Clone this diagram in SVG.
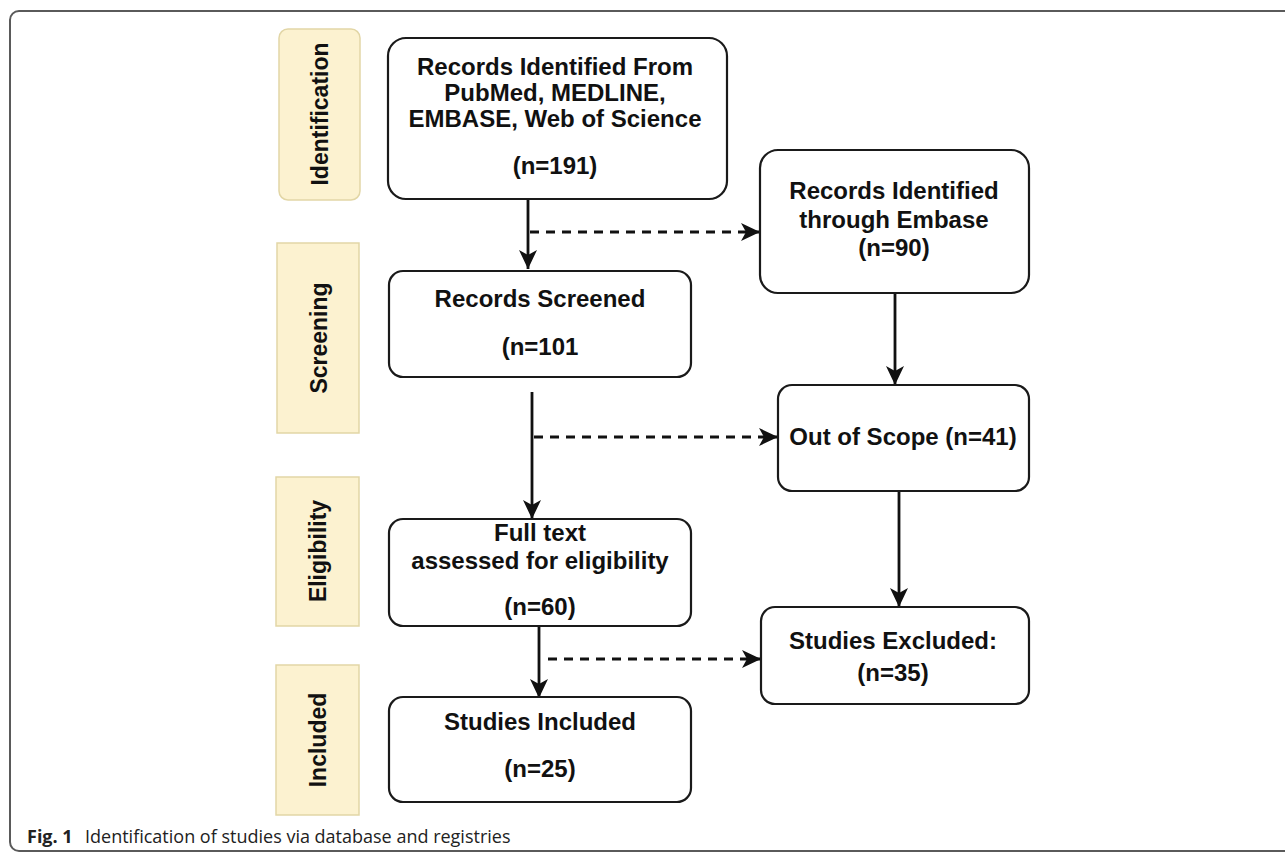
<svg xmlns="http://www.w3.org/2000/svg" width="1285" height="854" viewBox="0 0 1285 854">
<defs>
<style>
.frame{fill:#fff;stroke:#5a5a5a;stroke-width:2}
.phase{fill:#fcf2d0;stroke:#e2d6a6;stroke-width:1.5}
.box{fill:#fff;stroke:#1a1a1a;stroke-width:2.2}
.t{font-family:"Liberation Sans",Arial,sans-serif;font-weight:bold;font-size:24px;fill:#111;text-anchor:middle}
.pt{font-family:"Liberation Sans",Arial,sans-serif;font-weight:bold;font-size:23px;fill:#111;text-anchor:middle}
.solid{fill:none;stroke:#111;stroke-width:2.8}
.dash{fill:none;stroke:#111;stroke-width:2.8;stroke-dasharray:9 7}
.cap{font-family:"Open Sans","Noto Sans",sans-serif;font-size:18px;fill:#222}
</style>
<marker id="ah" markerUnits="userSpaceOnUse" markerWidth="20" markerHeight="20" viewBox="0 0 20 20" refX="19" refY="10" orient="auto">
<path d="M0,1 L19,10 L0,19 L5,10 Z" fill="#111"/>
</marker>
</defs>
<rect class="frame" x="10" y="11" width="1300" height="840" rx="9"/>

<g id="phase-identification">
<rect class="phase" x="279" y="29" width="81" height="171" rx="9"/>
<text class="pt" transform="translate(328,114) rotate(-90)">Identification</text>
</g>
<g id="phase-screening">
<rect class="phase" x="277" y="243" width="82" height="190"/>
<text class="pt" transform="translate(327,338) rotate(-90)">Screening</text>
</g>
<g id="phase-eligibility">
<rect class="phase" x="276" y="477" width="83" height="149"/>
<text class="pt" transform="translate(326,551) rotate(-90)">Eligibility</text>
</g>
<g id="phase-included">
<rect class="phase" x="276" y="665" width="83" height="150"/>
<text class="pt" transform="translate(326,740) rotate(-90)">Included</text>
</g>

<g id="connectors">
<line class="solid" x1="528" y1="199" x2="528" y2="269" marker-end="url(#ah)"/>
<line class="dash" x1="530" y1="232" x2="760" y2="232" marker-end="url(#ah)"/>
<line class="solid" x1="532" y1="392" x2="532" y2="519" marker-end="url(#ah)"/>
<line class="dash" x1="534" y1="437" x2="778" y2="437" marker-end="url(#ah)"/>
<line class="solid" x1="539" y1="626" x2="539" y2="698" marker-end="url(#ah)"/>
<line class="dash" x1="548" y1="659" x2="761" y2="659" marker-end="url(#ah)"/>
<line class="solid" x1="895" y1="293" x2="895" y2="385" marker-end="url(#ah)"/>
<line class="solid" x1="899" y1="491" x2="899" y2="607" marker-end="url(#ah)"/>
</g>

<g id="node-records-identified">
<rect class="box" x="388" y="38" width="339" height="161" rx="18"/>
<text class="t" x="555" y="75">Records Identified From</text>
<text class="t" x="555" y="101">PubMed, MEDLINE,</text>
<text class="t" x="555" y="127">EMBASE, Web of Science</text>
<text class="t" x="555" y="174">(n=191)</text>
</g>
<g id="node-records-screened">
<rect class="box" x="389" y="271" width="302" height="106" rx="14"/>
<text class="t" x="540" y="307">Records Screened</text>
<text class="t" x="540" y="355">(n=101</text>
</g>
<g id="node-full-text">
<rect class="box" x="389" y="519" width="302" height="107" rx="14"/>
<text class="t" x="540" y="541">Full text</text>
<text class="t" x="540" y="569">assessed for eligibility</text>
<text class="t" x="540" y="615">(n=60)</text>
</g>
<g id="node-studies-included">
<rect class="box" x="389" y="697" width="302" height="105" rx="14"/>
<text class="t" x="540" y="730">Studies Included</text>
<text class="t" x="540" y="777">(n=25)</text>
</g>
<g id="node-embase">
<rect class="box" x="760" y="150" width="269" height="143" rx="18"/>
<text class="t" x="894" y="199">Records Identified</text>
<text class="t" x="894" y="228">through Embase</text>
<text class="t" x="894" y="256">(n=90)</text>
</g>
<g id="node-out-of-scope">
<rect class="box" x="778" y="385" width="251" height="106" rx="14"/>
<text class="t" x="903" y="445">Out of Scope (n=41)</text>
</g>
<g id="node-studies-excluded">
<rect class="box" x="761" y="607" width="268" height="97" rx="14"/>
<text class="t" x="893" y="649">Studies Excluded:</text>
<text class="t" x="893" y="681">(n=35)</text>
</g>

<text class="cap" x="27" y="843"><tspan font-weight="bold">Fig. 1</tspan><tspan x="85">Identification of studies via database and registries</tspan></text>
</svg>
